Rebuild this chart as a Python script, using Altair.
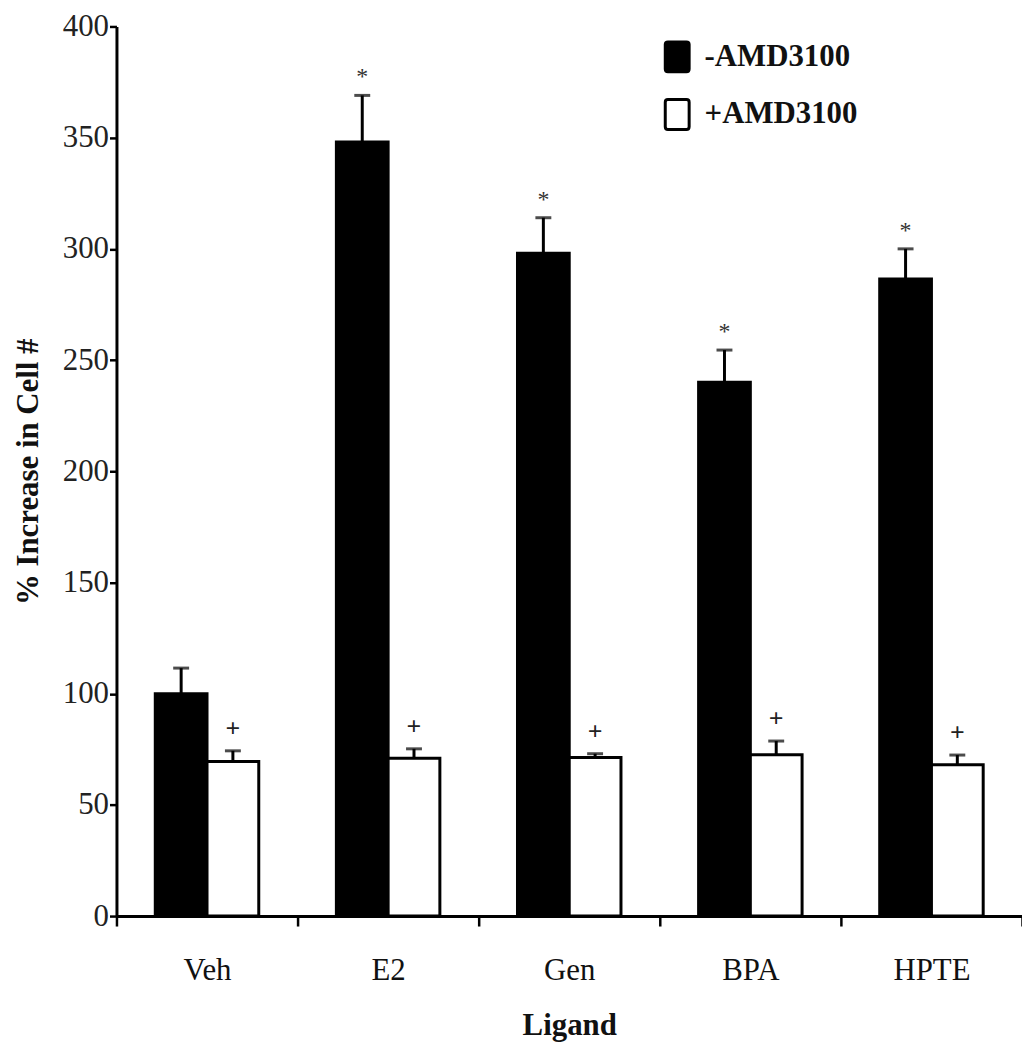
import altair as alt
import pandas as pd

ligands = ["Veh", "E2", "Gen", "BPA", "HPTE"]
groups = ["-AMD3100", "+AMD3100"]
minus_vals = [100, 348, 298, 240, 286.5]
minus_err = [11.5, 21, 16, 14.5, 13.5]
minus_sig = ["", "*", "*", "*", "*"]
plus_vals = [69.5, 71, 71.3, 72.5, 68]
plus_err = [4.8, 4.2, 1.7, 6.2, 4.4]
plus_sig = ["+", "+", "+", "+", "+"]

rows = []
for i, lg in enumerate(ligands):
    rows.append({"Ligand": lg, "group": groups[0], "value": minus_vals[i],
                 "top": minus_vals[i] + minus_err[i], "sig": minus_sig[i], "kind": "star"})
    rows.append({"Ligand": lg, "group": groups[1], "value": plus_vals[i],
                 "top": plus_vals[i] + plus_err[i], "sig": plus_sig[i], "kind": "plus"})
df = pd.DataFrame(rows)

FONT = "Liberation Serif"
legend_symbol = ("M-0.62,-1 H0.62 Q0.8,-1 0.8,-0.82 V0.82 Q0.8,1 0.62,1 H-0.62 "
                 "Q-0.8,1 -0.8,0.82 V-0.82 Q-0.8,-1 -0.62,-1 Z")

x_enc = alt.X("Ligand:N", sort=ligands,
              scale=alt.Scale(paddingInner=0, paddingOuter=0),
              axis=alt.Axis(title="Ligand", labelAngle=0, tickBand="extent",
                            labelFont=FONT, labelFontSize=31, labelColor="#111",
                            labelPadding=30, labelBaseline="top",
                            titleFont=FONT, titleFontSize=31, titleFontWeight="bold",
                            titleColor="#111", titleBaseline="alphabetic", titleY=119,
                            domainColor="black", domainWidth=3,
                            tickColor="black", tickWidth=2.5, tickSize=10))
xoff = alt.XOffset("group:N", sort=groups,
                   scale=alt.Scale(domain=groups, paddingInner=0, paddingOuter=0.75))
y_scale = alt.Scale(domain=[0, 400], nice=False)

base = alt.Chart(df)

bars = base.mark_bar(stroke="black", strokeWidth=3).encode(
    x=x_enc,
    xOffset=xoff,
    y=alt.Y("value:Q", scale=y_scale,
            axis=alt.Axis(title="% Increase in Cell #", values=list(range(0, 401, 50)),
                          grid=False, labelFont=FONT, labelFontSize=31, labelColor="#222",
                          labelPadding=1, tickSize=7, tickWidth=2.5, tickColor="black",
                          domainColor="black", domainWidth=3,
                          titleFont=FONT, titleFontSize=31, titleFontWeight="bold",
                          titleColor="#111", titleX=-88, titleBaseline="middle")),
    fill=alt.Fill("group:N", sort=groups,
                  scale=alt.Scale(domain=groups, range=["black", "white"]),
                  legend=alt.Legend(title=None, orient="none", legendX=547, legendY=14,
                                    symbolType=legend_symbol, symbolSize=900,
                                    symbolStrokeColor="black", symbolStrokeWidth=3,
                                    labelFont=FONT, labelFontSize=31, labelFontWeight="bold",
                                    labelColor="#111", labelOffset=11, rowPadding=15,
                                    padding=0)),
)

err_rule = base.mark_rule(color="black", strokeWidth=3).encode(
    x=alt.X("Ligand:N", sort=ligands),
    xOffset=xoff,
    y=alt.Y("value:Q", scale=y_scale),
    y2="top:Q",
)

err_cap = base.mark_tick(color="black", orient="horizontal", size=16, thickness=3).encode(
    x=alt.X("Ligand:N", sort=ligands),
    xOffset=xoff,
    y=alt.Y("top:Q", scale=y_scale),
)

stars = base.transform_filter(alt.datum.kind == "star").mark_text(
    font=FONT, fontSize=24, baseline="alphabetic", dy=-11, color="#333"
).encode(
    x=alt.X("Ligand:N", sort=ligands),
    xOffset=xoff,
    y=alt.Y("top:Q", scale=y_scale),
    text="sig:N",
)

pluses = base.transform_filter(alt.datum.kind == "plus").mark_text(
    font=FONT, fontSize=26, fontWeight="bold", baseline="alphabetic", dy=-14, color="#222"
).encode(
    x=alt.X("Ligand:N", sort=ligands),
    xOffset=xoff,
    y=alt.Y("top:Q", scale=y_scale),
    text="sig:N",
)

chart = alt.layer(bars, err_rule, err_cap, stars, pluses).properties(
    width=910, height=894,
    background="white",
    autosize=alt.AutoSizeParams(type="none"),
    padding={"left": 109, "top": 16, "right": 0, "bottom": 125},
).configure_view(strokeWidth=0, stroke="transparent").configure_axis(
    labelFont=FONT, titleFont=FONT, grid=False
).configure_legend(labelFont=FONT)

chart.save("out.html", embed_options={"renderer": "svg", "actions": False})
